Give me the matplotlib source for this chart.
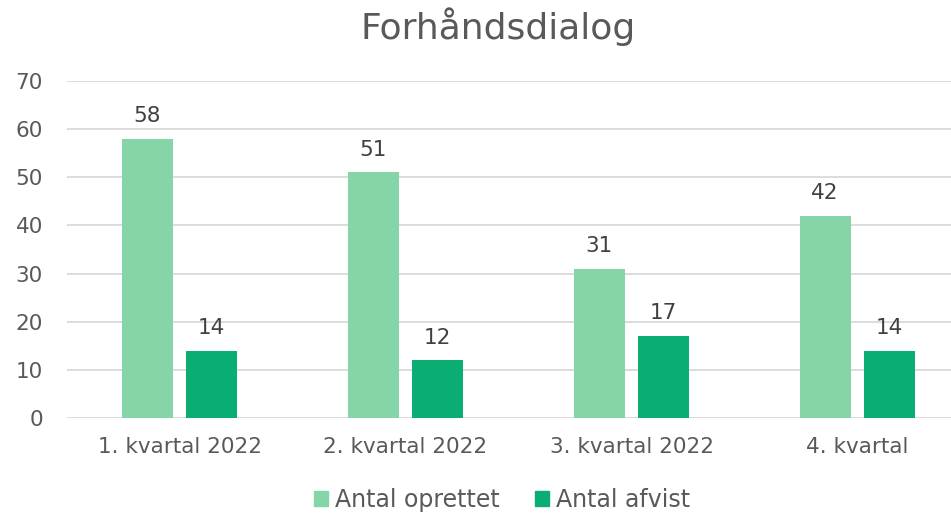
import matplotlib
matplotlib.use("Agg")
import matplotlib.pyplot as plt
import numpy as np
from matplotlib.patches import Patch

categories = ["1. kvartal 2022", "2. kvartal 2022", "3. kvartal 2022", "4. kvartal"]
oprettet = [58, 51, 31, 42]
afvist = [14, 12, 17, 14]
series_names = ["Antal oprettet", "Antal afvist"]
title = "Forhåndsdialog"

c_light = "#86D5A9"
c_dark = "#0BAE72"
txt = "#595959"

plt.rcParams['font.family'] = ['DejaVu Sans']

W, H = 951, 513
fig = plt.figure(figsize=(W/100, H/100), dpi=100)
left, right = 66.5, 970.5
top, bottom = 81, 418
ax = fig.add_axes([left/W, (H-bottom)/H, (right-left)/W, (bottom-top)/H])

x = np.arange(len(categories))
bw = 0.226
off = 0.143
b1 = ax.bar(x - off, oprettet, bw, color=c_light, zorder=3)
b2 = ax.bar(x + off, afvist, bw, color=c_dark, zorder=3)

for bars, vals in ((b1, oprettet), (b2, afvist)):
    for r, v in zip(bars, vals):
        ax.annotate(str(v), (r.get_x() + r.get_width()/2, v), xytext=(0, 12),
                    textcoords="offset points", ha="center", va="baseline",
                    fontsize=15.5, color="#404040")

ax.set_xlim(-0.5, 3.5)
ax.set_ylim(0, 70)
ax.set_yticks(range(0, 71, 10))
ax.set_xticks(x)
ax.set_xticklabels(categories)
ax.tick_params(axis='both', length=0, labelsize=15.5, colors=txt)
ax.tick_params(axis='x', pad=14)
ax.tick_params(axis='y', pad=17)
ax.grid(axis='y', color="#D9D9D9", linewidth=1.3, zorder=0)
for s in ax.spines.values():
    s.set_visible(False)

fig.text(498.5/W, 1 - 39/H, title, ha="center", va="baseline", fontsize=26, color=txt)

handles = [Patch(color=c_light), Patch(color=c_dark)]
fig.legend(handles, series_names, loc="center", bbox_to_anchor=(502/W, 1 - 500/H),
           ncol=2, frameon=False, fontsize=17, labelcolor=txt,
           handlelength=0.6, handleheight=0.6, handletextpad=0.3, columnspacing=1.5)

fig.savefig("out.png", dpi=100)
